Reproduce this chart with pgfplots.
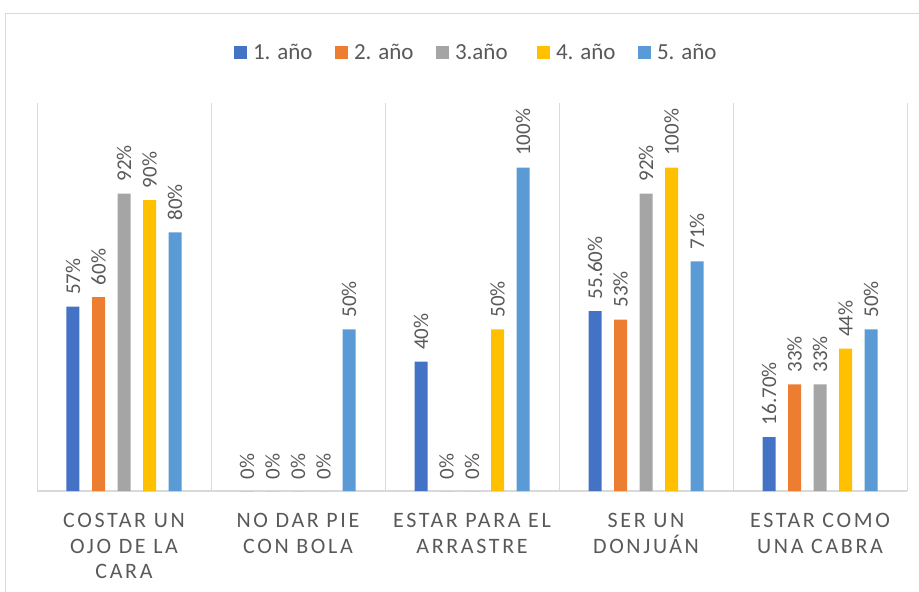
\documentclass[border=0pt]{standalone}
\usepackage{fontspec}
\setmainfont{Carlito}
\newfontfamily\spaced[LetterSpace=12]{Carlito}
\usepackage{pgfplots}
\pgfplotsset{compat=1.18}
\definecolor{c1}{HTML}{4472C4}
\definecolor{c2}{HTML}{ED7D31}
\definecolor{c3}{HTML}{A5A5A5}
\definecolor{c4}{HTML}{FFC000}
\definecolor{c5}{HTML}{5B9BD5}
\definecolor{txt}{HTML}{595959}
\definecolor{gridc}{HTML}{D9D9D9}
\newcommand{\legbox}[1]{\makebox[82pt][l]{#1}}
\begin{document}
\begin{tikzpicture}
\useasboundingbox (0,0) rectangle (919pt,-592pt);
\draw[gridc, line width=1pt] (5pt,-600pt) -- (5pt,-13pt) -- (930pt,-13pt);
\begin{axis}[
  at={(37pt,-491pt)}, anchor=south west,
  width=870pt, height=388pt, scale only axis,
  xmin=-0.5, xmax=4.5, ymin=0, ymax=120,
  ybar=12.5pt, bar width=13pt,
  axis x line*=bottom, axis y line=none,
  x axis line style={gridc, line width=1.2pt, -},
  xtick={0,...,4},
  xticklabels={COSTAR UN\\OJO DE LA\\CARA, NO DAR PIE\\CON BOLA, ESTAR PARA EL\\ARRASTRE, SER UN\\DONJUÁN, ESTAR COMO\\UNA CABRA},
  major tick length=0pt, minor tick length=0pt,
  minor xtick={-0.5,0.5,...,4.5},
  xminorgrids=true,
  minor grid style={gridc, line width=1pt},
  xticklabel style={font=\spaced\fontsize{22}{25.5}\selectfont, text=txt, align=center, yshift=-19pt},
  ytick=\empty,
  point meta=explicit symbolic,
  nodes near coords,
  every node near coord/.append style={rotate=90, anchor=west, inner sep=0pt, outer xsep=12pt, font=\fontsize{21}{21}\selectfont, text=txt},
  legend columns=5,
  legend style={at={(0.5167,1.131)}, anchor=center, draw=none, fill=none,
    font=\fontsize{23}{23}\selectfont, text=txt, nodes={inner xsep=0pt},
    /tikz/every odd column/.append style={column sep=6pt},
    /tikz/every even column/.append style={column sep=0pt}},
  legend image code/.code={\fill[#1] (0pt,-6.5pt) rectangle (13pt,6.5pt);},
]
\addplot[fill=c1, draw=none] coordinates {(0,57) [57\%] (1,0) [0\%] (2,40) [40\%] (3,55.6) [55.60\%] (4,16.7) [16.70\%]};
\addplot[fill=c2, draw=none] coordinates {(0,60) [60\%] (1,0) [0\%] (2,0) [0\%] (3,53) [53\%] (4,33) [33\%]};
\addplot[fill=c3, draw=none] coordinates {(0,92) [92\%] (1,0) [0\%] (2,0) [0\%] (3,92) [92\%] (4,33) [33\%]};
\addplot[fill=c4, draw=none] coordinates {(0,90) [90\%] (1,0) [0\%] (2,50) [50\%] (3,100) [100\%] (4,44) [44\%]};
\addplot[fill=c5, draw=none] coordinates {(0,80) [80\%] (1,50) [50\%] (2,100) [100\%] (3,71) [71\%] (4,50) [50\%]};
\legend{\legbox{1. año}, \legbox{2. año}, \legbox{3.año}, \legbox{4. año}, \legbox{5. año}}
\end{axis}
\end{tikzpicture}
\end{document}
